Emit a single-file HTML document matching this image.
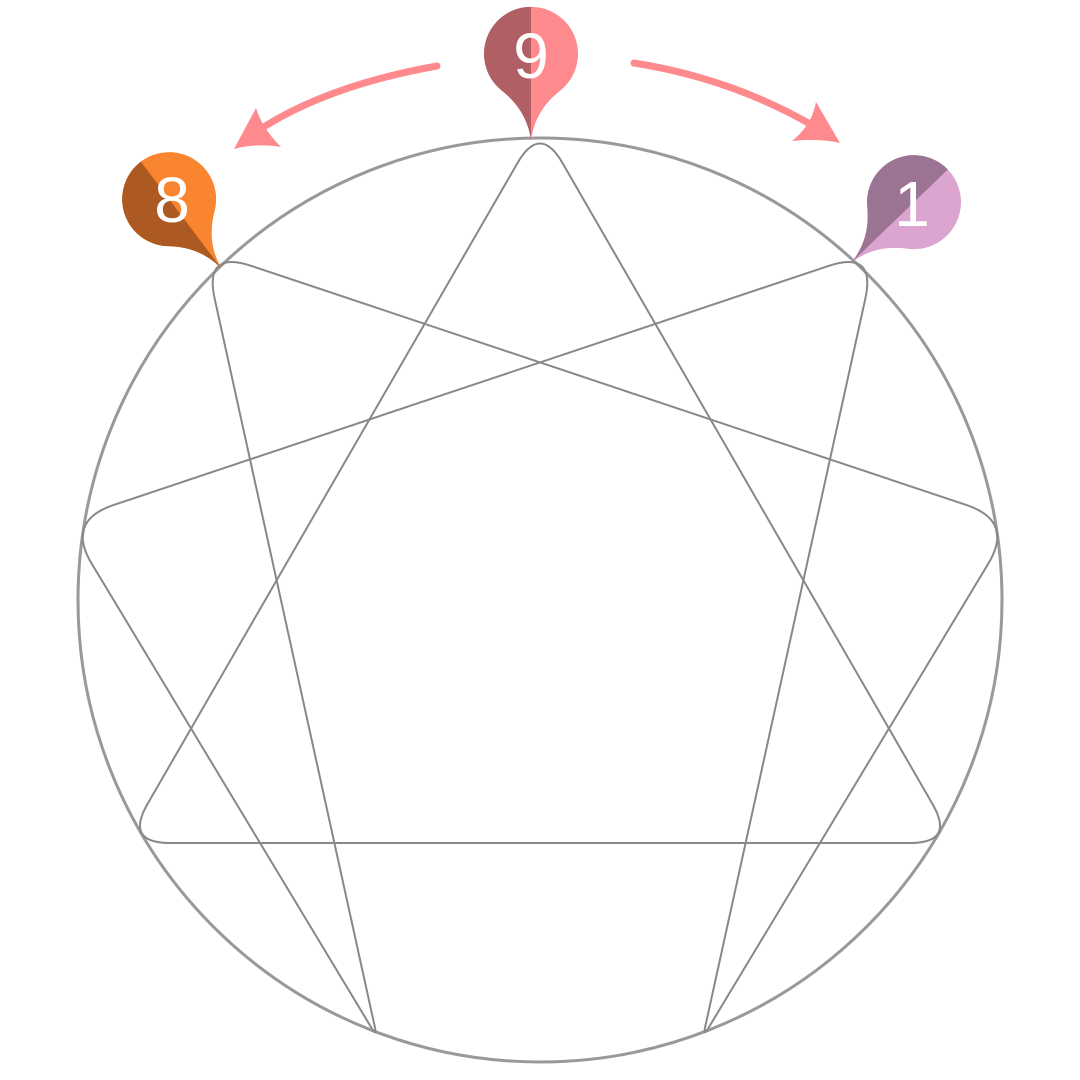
<!DOCTYPE html>
<html><head><meta charset="utf-8"><style>html,body{margin:0;padding:0;background:#fff}svg{display:block}</style></head>
<body>
<svg width="1080" height="1080" viewBox="0 0 1080 1080" xmlns="http://www.w3.org/2000/svg">
<defs>
<path id="drop" d="M0,0 C -3,-20 -12,-36 -30,-50 A 47 47 0 1 1 30 -50 C 12,-36 3,-20 0,0 Z"/>
<clipPath id="dc"><use href="#drop"/></clipPath>
</defs>
<circle cx="540" cy="600" r="462" fill="none" stroke="#999" stroke-width="3"/>
<path d="M562.5 163 Q540 124 517.5 163 L147.5 804 Q125 843 170 843 L910 843 Q955 843 932.5 804 Z" fill="none" stroke="#888" stroke-width="2"/>
<path d="M828.6 265.9 Q876 250 865.3 298.8 L705.1 1027.2 Q703 1037 708.2 1028.4 L988.2 563.8 Q1014 521 966.6 505.1 L251.4 265.9 Q204 250 214.7 298.8 L374.9 1027.2 Q377 1037 371.8 1028.4 L91.8 563.8 Q66 521 113.4 505.1 Z" fill="none" stroke="#888" stroke-width="2"/>
<path d="M437,66 Q330,85 262,128" fill="none" stroke="#ff8a8e" stroke-width="7" stroke-linecap="round"/>
<path d="M234,149 L256,108 Q262,128 281,147 Q255,143 234,149 Z" fill="#ff8a8e"/>
<path d="M634,63 Q730,78 812,125" fill="none" stroke="#ff8a8e" stroke-width="7" stroke-linecap="round"/>
<path d="M840,143 L816,102 Q812,125 792,141 Q818,138 840,143 Z" fill="#ff8a8e"/>
<g transform="translate(531,140)">
<use href="#drop" fill="#ff8a8e"/>
<rect x="-60" y="-150" width="60" height="160" fill="#b06064" clip-path="url(#dc)"/>
</g>
<g transform="translate(221,268) rotate(-37)">
<use href="#drop" fill="#f98530"/>
<rect x="-60" y="-150" width="60" height="160" fill="#ad5a22" clip-path="url(#dc)"/>
</g>
<g transform="translate(852,262) rotate(46)">
<use href="#drop" fill="#dba5cf"/>
<rect x="-60" y="-150" width="60" height="160" fill="#9b7393" clip-path="url(#dc)"/>
</g>
<g font-family="Liberation Sans, sans-serif" font-size="64" fill="#fff" text-anchor="middle">
<text x="531" y="78">9</text>
<text x="172" y="222">8</text>
<text x="912" y="226">1</text>
</g>
</svg>
</body></html>
